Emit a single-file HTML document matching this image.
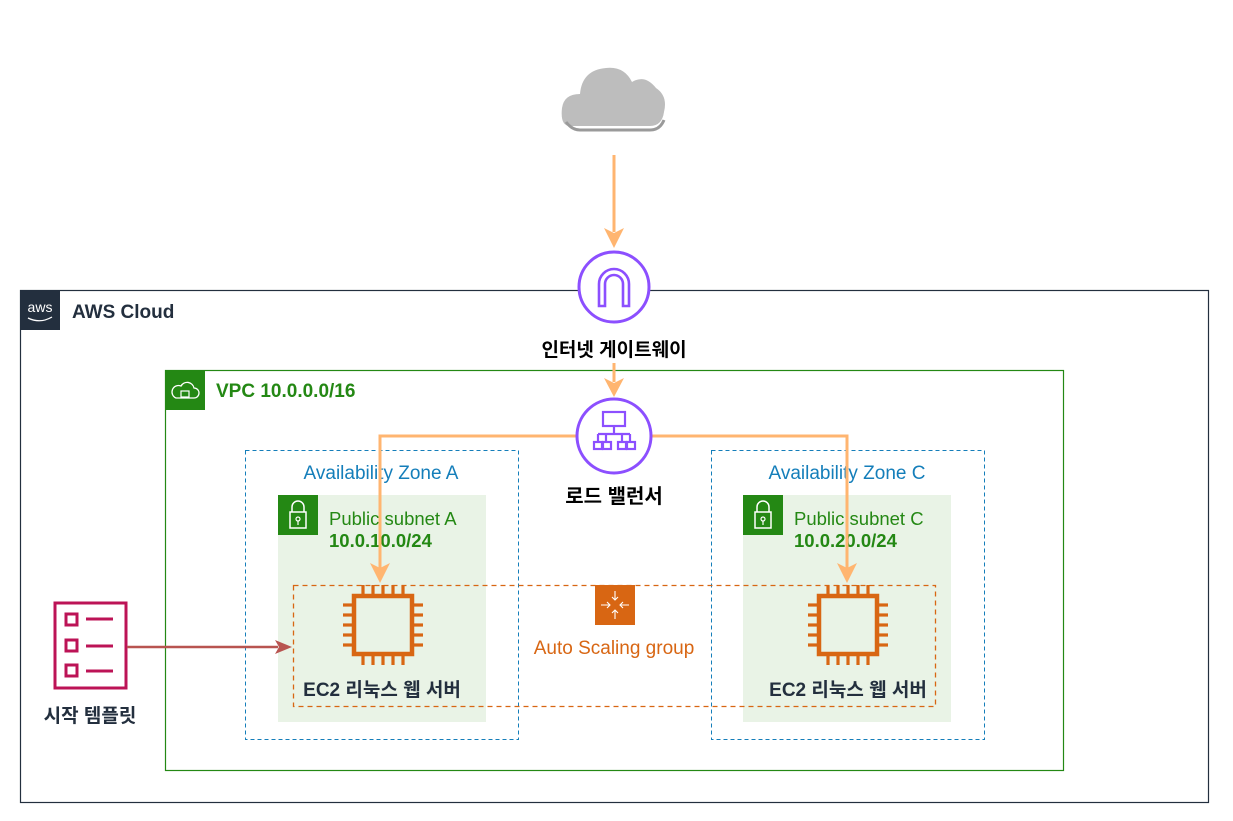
<!DOCTYPE html>
<html><head><meta charset="utf-8"><style>
html,body{margin:0;padding:0;background:#fff}
text{font-family:"Liberation Sans","Noto Sans CJK KR",sans-serif}
</style></head><body>
<svg width="1233" height="816" viewBox="0 0 1233 816" xmlns="http://www.w3.org/2000/svg">
<defs>
<g id="chip">
<rect x="-29" y="-29" width="58" height="58" fill="none" stroke="#D86613" stroke-width="4.5"/>
<g stroke="#D86613" stroke-width="3.2">
<line x1="-20" y1="-31" x2="-20" y2="-40"/><line x1="-10" y1="-31" x2="-10" y2="-40"/><line x1="0" y1="-31" x2="0" y2="-40"/><line x1="10" y1="-31" x2="10" y2="-40"/><line x1="20" y1="-31" x2="20" y2="-40"/>
<line x1="-20" y1="31" x2="-20" y2="40"/><line x1="-10" y1="31" x2="-10" y2="40"/><line x1="0" y1="31" x2="0" y2="40"/><line x1="10" y1="31" x2="10" y2="40"/><line x1="20" y1="31" x2="20" y2="40"/>
<line y1="-20" x1="-31" y2="-20" x2="-40"/><line y1="-10" x1="-31" y2="-10" x2="-40"/><line y1="0" x1="-31" y2="0" x2="-40"/><line y1="10" x1="-31" y2="10" x2="-40"/><line y1="20" x1="-31" y2="20" x2="-40"/>
<line y1="-20" x1="31" y2="-20" x2="40"/><line y1="-10" x1="31" y2="-10" x2="40"/><line y1="0" x1="31" y2="0" x2="40"/><line y1="10" x1="31" y2="10" x2="40"/><line y1="20" x1="31" y2="20" x2="40"/>
</g></g>
<g id="lock">
<rect width="40" height="40" fill="#248814"/>
<rect x="12" y="17" width="16" height="16" fill="none" stroke="#fff" stroke-width="1.5"/>
<path d="M14 17v-5a6 6 0 0 1 12 0v5" fill="none" stroke="#fff" stroke-width="1.5"/>
<circle cx="20" cy="24" r="2" fill="none" stroke="#fff" stroke-width="1.2"/><line x1="20" y1="26" x2="20" y2="30" stroke="#fff" stroke-width="1.2"/>
</g>
</defs>
<!-- cloud -->
<path d="M570 126 Q560 126 562 108 Q564 94 580 94 Q582 70 606 68 Q624 66 632 82 Q645 74 656 88 Q668 96 664 112 Q662 126 650 126 Z" fill="#BDBDBD"/>
<path d="M566 122 Q572 130 580 130 L650 130 Q660 130 664 120" fill="none" stroke="#9a9a9a" stroke-width="3"/>
<line x1="614" y1="155" x2="614" y2="232" stroke="#FFB570" stroke-width="3"/>
<path d="M604 228 L614 248 L624 228 L614 233 Z" fill="#FFB570"/>
<!-- AWS cloud -->
<rect x="20.5" y="290.5" width="1188" height="512" fill="none" stroke="#232F3E" stroke-width="1.2"/>
<rect x="20" y="290" width="40" height="40" fill="#232F3E"/>
<text x="40" y="312" font-size="14" fill="#fff" text-anchor="middle">aws</text>
<path d="M28 318 Q40 324 52 317" fill="none" stroke="#fff" stroke-width="1.3"/>
<text x="72" y="318" font-size="19" font-weight="bold" fill="#232F3E">AWS Cloud</text>
<!-- VPC -->
<rect x="165.5" y="370.5" width="898" height="400" fill="none" stroke="#248814" stroke-width="1.2"/>
<rect x="165" y="370" width="40" height="40" fill="#248814"/>
<path d="M176 398 h18 a5 5 0 0 0 0-10 a7 7 0 0 0-13-2 a5 5 0 0 0-5 12z" fill="none" stroke="#fff" stroke-width="1.3"/>
<rect x="181" y="391" width="8" height="6" fill="none" stroke="#fff" stroke-width="1.2"/>
<text x="216" y="397" font-size="19" font-weight="bold" fill="#248814">VPC 10.0.0.0/16</text>
<!-- IGW -->
<circle cx="614" cy="287" r="35" fill="#fff" stroke="#8C4FFF" stroke-width="3"/>
<path d="M599 306 V284 a15 15 0 0 1 30 0 V306 H623 V284 a9 9 0 0 0-18 0 V306 Z" fill="none" stroke="#8C4FFF" stroke-width="2.6"/>
<rect x="530" y="336" width="168" height="26" fill="#fff"/>
<text x="614" y="356" font-size="19" font-weight="bold" text-anchor="middle" fill="#000">인터넷 게이트웨이</text>
<line x1="614" y1="363" x2="614" y2="382" stroke="#FFB570" stroke-width="3"/>
<path d="M604 378 L614 397 L624 378 L614 383 Z" fill="#FFB570"/>
<!-- AZ -->
<rect x="245.5" y="450.5" width="273" height="289" fill="none" stroke="#147EBA" stroke-dasharray="4 3"/>
<rect x="711.5" y="450.5" width="273" height="289" fill="none" stroke="#147EBA" stroke-dasharray="4 3"/>
<text x="381" y="479" font-size="19" fill="#147EBA" text-anchor="middle">Availability Zone A</text>
<text x="847" y="479" font-size="19" fill="#147EBA" text-anchor="middle">Availability Zone C</text>
<!-- subnets -->
<rect x="278" y="495" width="208" height="227" fill="#E9F3E6"/>
<rect x="743" y="495" width="208" height="227" fill="#E9F3E6"/>
<use href="#lock" x="278" y="495"/><use href="#lock" x="743" y="495"/>
<text x="329" y="525" font-size="18.5" fill="#248814">Public subnet A</text>
<text x="329" y="547" font-size="18.5" font-weight="bold" fill="#248814">10.0.10.0/24</text>
<text x="794" y="525" font-size="18.5" fill="#248814">Public subnet C</text>
<text x="794" y="547" font-size="18.5" font-weight="bold" fill="#248814">10.0.20.0/24</text>
<!-- ASG -->
<rect x="293.5" y="585.5" width="642" height="121" fill="none" stroke="#D86613" stroke-width="1.3" stroke-dasharray="5 4"/>
<rect x="595" y="585" width="40" height="40" fill="#D86613"/>
<g stroke="#fff" stroke-width="1.1" fill="none">
<path d="M601 605h9m-3-3l3 3-3 3M629 605h-9m3-3l-3 3 3 3M615 591v9m-3-3l3 3 3-3M615 619v-9m-3 3l3-3 3 3"/>
</g>
<text x="614" y="654" font-size="19" fill="#D86613" text-anchor="middle">Auto Scaling group</text>
<!-- LB lines -->
<path d="M577 436 H380 V568" fill="none" stroke="#FFB570" stroke-width="3"/>
<path d="M651 436 H847 V568" fill="none" stroke="#FFB570" stroke-width="3"/>
<path d="M370 563 L380 583 L390 563 L380 568 Z" fill="#FFB570"/>
<path d="M837 563 L847 583 L857 563 L847 568 Z" fill="#FFB570"/>
<!-- ELB -->
<circle cx="614" cy="436" r="37" fill="#fff" stroke="#8C4FFF" stroke-width="3"/>
<g fill="none" stroke="#8C4FFF" stroke-width="2.2">
<rect x="603" y="412" width="22" height="14"/>
<path d="M614 426v8M598 434h32M598 434v7M630 434v7M606 434v7M622 434v7"/>
<rect x="594" y="442" width="8" height="7"/><rect x="603" y="442" width="8" height="7"/><rect x="618" y="442" width="8" height="7"/><rect x="627" y="442" width="8" height="7"/>
</g>
<text x="614" y="503" font-size="20" font-weight="bold" text-anchor="middle" fill="#000">로드 밸런서</text>
<!-- EC2 -->
<use href="#chip" x="383" y="625"/><use href="#chip" x="848" y="625"/>
<text x="382" y="696" font-size="19" font-weight="bold" fill="#232F3E" text-anchor="middle">EC2 리눅스 웹 서버</text>
<text x="848" y="696" font-size="19" font-weight="bold" fill="#232F3E" text-anchor="middle">EC2 리눅스 웹 서버</text>
<!-- launch template -->
<rect x="55" y="603" width="71" height="85" fill="none" stroke="#BC1356" stroke-width="3"/>
<g fill="none" stroke="#BC1356" stroke-width="3">
<rect x="66" y="614" width="11" height="11"/><rect x="66" y="640" width="11" height="11"/><rect x="66" y="665" width="11" height="11"/>
<path d="M86 619h27M86 646h27M86 671h27"/>
</g>
<text x="90" y="722" font-size="19" font-weight="bold" fill="#232F3E" text-anchor="middle">시작 템플릿</text>
<line x1="127" y1="647" x2="278" y2="647" stroke="#B85450" stroke-width="2.5"/>
<path d="M275 640 L292 647 L275 654 L279 647 Z" fill="#B85450"/>
</svg>
</body></html>
